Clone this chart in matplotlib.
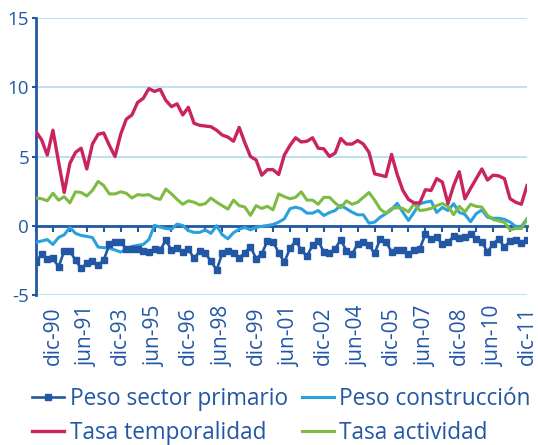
import matplotlib
matplotlib.use("Agg")
import matplotlib.pyplot as plt

plt.rcParams['font.family'] = ['Open Sans', 'DejaVu Sans']
plt.rcParams['axes.unicode_minus'] = False

# colours
DARK_BLUE = '#2257a5'
LIGHT_BLUE = '#2ba1dc'
CRIMSON = '#c92460'
GREEN = '#7dbb44'
GRID_BLUE = '#b5e0f4'

# quarterly series, mar-90 .. dic-11
primario = [
    -2.6, -2.07, -2.41, -2.36, -2.96, -1.83, -1.83, -2.48, -3.08, -2.72,
    -2.55, -2.84, -2.48, -1.35, -1.2, -1.16, -1.69, -1.69, -1.69, -1.83,
    -1.88, -1.69, -1.76, -1.04, -1.76, -1.64, -1.93, -1.69, -2.36, -1.83,
    -2.0, -2.55, -3.2, -2.0, -1.8, -1.95, -2.33, -1.95, -1.5, -2.38,
    -2.02, -1.11, -1.15, -1.95, -2.63, -1.64, -1.08, -1.75, -2.2, -1.42,
    -1.08, -1.9, -1.98, -1.66, -1.01, -1.8, -2.07, -1.3, -1.15, -1.4,
    -2.0, -0.94, -1.15, -1.88, -1.73, -1.73, -2.02, -1.78, -1.66, -0.6,
    -0.95, -0.82, -1.35, -1.18, -0.77, -0.87, -0.82, -0.58, -0.97, -1.15,
    -1.9, -1.3, -0.94, -1.57, -1.08, -1.05, -1.27, -1.01,
]
construccion = [
    -1.2, -1.1, -1.0, -1.35, -0.85, -0.65, -0.12, -0.55, -0.7, -0.77,
    -0.85, -1.54, -1.58, -1.62, -1.75, -1.9, -1.7, -1.5, -1.42, -1.35,
    -1.0, 0.03, -0.1, -0.2, -0.25, 0.12, 0.02, -0.35, -0.48, -0.48,
    -0.3, -0.55, 0.0, -0.65, -0.94, -0.5, -0.25, -0.12, -0.3, -0.12,
    -0.04, 0.02, 0.09, 0.26, 0.5, 1.23, 1.34, 1.23, 0.91, 0.91,
    1.1, 0.74, 0.95, 1.1, 1.47, 1.23, 0.98, 0.79, 0.79, 0.19,
    0.26, 0.62, 0.87, 1.16, 1.62, 0.98, 0.38, 0.98, 1.59, 1.7,
    1.78, 0.96, 1.32, 1.1, 1.59, 0.96, 0.82, 0.29, 0.87, 1.14,
    0.62, 0.54, 0.54, 0.46, 0.26, -0.05, -0.05, 0.5,
]
temporalidad = [
    6.8, 6.2, 5.1, 6.9, 4.6, 2.4, 4.5, 5.3, 5.6, 4.1,
    5.9, 6.6, 6.7, 5.8, 5.0, 6.6, 7.7, 8.0, 8.9, 9.2,
    9.9, 9.7, 9.85, 9.05, 8.6, 8.8, 8.0, 8.55, 7.4, 7.25,
    7.2, 7.15, 6.9, 6.55, 6.4, 6.1, 7.1, 6.0, 5.0, 4.75,
    3.65, 4.05, 4.05, 3.7, 5.1, 5.8, 6.35, 6.05, 6.1, 6.35,
    5.6, 5.55, 5.0, 5.25, 6.3, 5.9, 5.9, 6.15, 5.9, 5.3,
    3.75, 3.65, 3.55, 5.15, 3.7, 2.55, 1.9, 1.65, 1.65, 2.6,
    2.55, 3.4, 3.15, 1.6, 2.9, 3.9, 1.95, 2.7, 3.4, 4.1,
    3.3, 3.65, 3.6, 3.4, 1.95, 1.7, 1.55, 2.9,
]
actividad = [
    2.0, 1.95, 1.8, 2.35, 1.85, 2.1, 1.65, 2.45, 2.4, 2.15,
    2.55, 3.2, 2.9, 2.3, 2.3, 2.45, 2.35, 2.0, 2.25, 2.2,
    2.25, 2.0, 1.9, 2.65, 2.3, 1.9, 1.55, 1.8, 1.7, 1.5,
    1.6, 2.0, 1.7, 1.45, 1.2, 1.85, 1.45, 1.35, 0.75, 1.45,
    1.25, 1.4, 1.15, 2.3, 2.1, 1.95, 2.05, 2.45, 1.85, 1.85,
    1.55, 2.05, 2.05, 1.65, 1.3, 1.8, 1.55, 1.7, 2.05, 2.4,
    1.85, 1.2, 0.9, 1.25, 1.3, 1.25, 1.0, 1.6, 1.1, 1.15,
    1.25, 1.45, 1.6, 1.4, 0.8, 1.4, 1.0, 1.55, 1.4, 1.35,
    0.75, 0.45, 0.35, 0.25, -0.3, -0.2, -0.2, 0.45,
]

x_labels = ['dic-90', 'jun-91', 'dic-93', 'jun-95', 'dic-96', 'jun-98',
            'dic-99', 'jun-01', 'dic-02', 'jun-04', 'dic-05', 'jun-07',
            'dic-08', 'jun-10', 'dic-11']

n = len(primario)
quarters = list(range(n))

fig = plt.figure(figsize=(5.38, 4.45), dpi=100)
ax = fig.add_axes([36 / 538, 150 / 445, 491 / 538, 277 / 445])

ax.plot(quarters, construccion, color=LIGHT_BLUE, lw=2.2, zorder=3,
        label='Peso construcción')
ax.plot(quarters, actividad, color=GREEN, lw=2.2, zorder=4,
        label='Tasa actividad')
ax.plot(quarters, temporalidad, color=CRIMSON, lw=2.4, zorder=5,
        label='Tasa temporalidad')
ax.plot(quarters, primario, color=DARK_BLUE, lw=1.9, marker='s',
        markersize=3.9, zorder=6, label='Peso sector primario')

ax.set_xlim(0, n - 1)
ax.set_ylim(-5, 15)
ax.set_yticks([-5, 0, 5, 10, 15])
ax.yaxis.grid(True, color=GRID_BLUE, lw=1.3)
ax.set_axisbelow(True)

for side in ['top', 'right']:
    ax.spines[side].set_visible(False)
ax.spines['left'].set_color(DARK_BLUE)
ax.spines['left'].set_linewidth(2.0)
ax.spines['bottom'].set_position(('data', 0))
ax.spines['bottom'].set_color(DARK_BLUE)
ax.spines['bottom'].set_linewidth(2.0)
ax.spines['bottom'].set_zorder(2)

# small ticks on the zero line every three quarters
ax.set_xticks(range(0, n, 3))
ax.tick_params(axis='x', direction='out', length=4, width=1.5,
               color=DARK_BLUE, labelbottom=False)
ax.tick_params(axis='y', direction='out', length=3, width=1.5,
               color=DARK_BLUE, labelcolor=DARK_BLUE, labelsize=13.5, pad=2)

# period labels sit below the plot
sec = ax.secondary_xaxis('bottom')
sec.set_xticks(range(3, n, 6), x_labels, rotation=90)
sec.tick_params(length=0, pad=8, labelsize=15, labelcolor=DARK_BLUE)
sec.spines['bottom'].set_visible(False)

handles, labels = ax.get_legend_handles_labels()
order = [3, 2, 0, 1]
fig.legend([handles[i] for i in order], [labels[i] for i in order],
           loc='upper left', bbox_to_anchor=(32 / 538, 1 - 387 / 445),
           ncol=2, frameon=False, fontsize=16.3, labelcolor=DARK_BLUE,
           handlelength=1.42, handletextpad=0.25, columnspacing=0.6,
           labelspacing=0.45, borderpad=0, borderaxespad=0)

fig.savefig('out.png', dpi=100)
